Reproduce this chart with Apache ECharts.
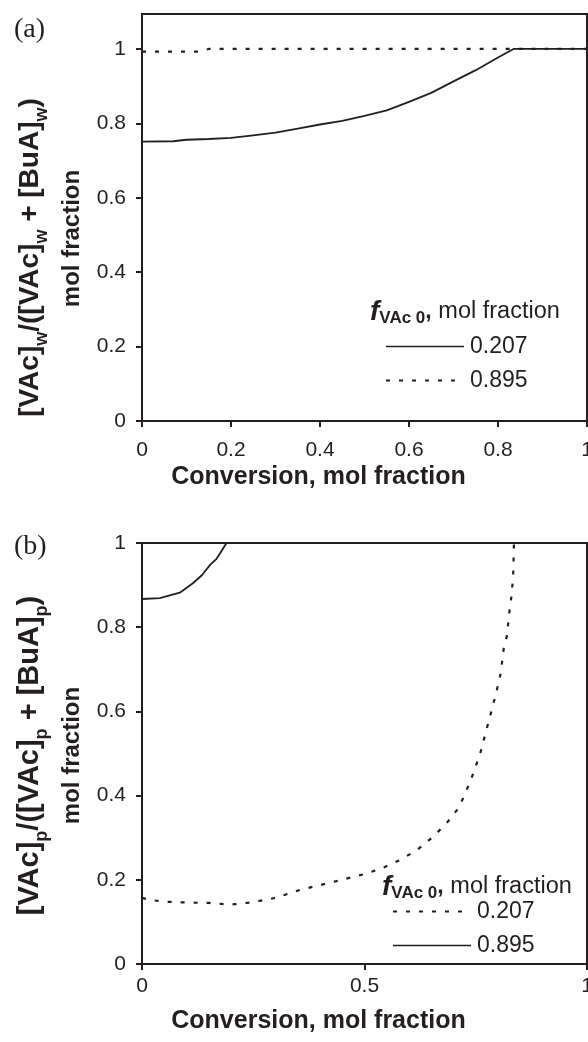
<!DOCTYPE html>
<html>
<head>
<meta charset="utf-8">
<script src="https://cdn.jsdelivr.net/npm/echarts@6/dist/echarts.min.js"></script>
<style>
  html, body { margin: 0; padding: 0; background: #fff; }
  #chart { width: 588px; height: 1042px; }
</style>
</head>
<body>
<div id="chart"></div>
<script>
// Panel (a): monomer ratio in the water phase vs. conversion
const convA207 = [0, 0.07, 0.1, 0.15, 0.2, 0.25, 0.3, 0.35, 0.4, 0.45, 0.5, 0.55, 0.6, 0.65, 0.7, 0.75, 0.8, 0.835, 0.9, 1.0];
const ratioA207 = [0.751, 0.752, 0.756, 0.758, 0.761, 0.768, 0.775, 0.786, 0.797, 0.807, 0.82, 0.835, 0.858, 0.882, 0.913, 0.943, 0.977, 1.0, 1.0, 1.0];
const convA895 = [0, 0.13, 0.15, 1.0];
const ratioA895 = [0.993, 0.993, 1.0, 1.0];

// Panel (b): monomer ratio in the polymer particles vs. conversion
const convB207 = [0, 0.02, 0.05, 0.1, 0.15, 0.2, 0.25, 0.3, 0.355, 0.43, 0.505, 0.54, 0.58, 0.618, 0.654, 0.685, 0.708, 0.72, 0.74, 0.76, 0.78, 0.795, 0.806, 0.813, 0.82, 0.826, 0.83, 0.834, 0.836, 1.0];
const ratioB207 = [0.157, 0.152, 0.148, 0.146, 0.145, 0.141, 0.147, 0.157, 0.176, 0.195, 0.215, 0.228, 0.247, 0.271, 0.302, 0.335, 0.366, 0.39, 0.44, 0.5, 0.58, 0.64, 0.69, 0.75, 0.78, 0.84, 0.872, 0.92, 1.0, 1.0];
const convB895 = [0, 0.04, 0.085, 0.115, 0.135, 0.153, 0.168, 0.19, 1.0];
const ratioB895 = [0.867, 0.869, 0.882, 0.905, 0.924, 0.948, 0.963, 1.0, 1.0];

// Tick values
const ticksA_x = [0, 0.2, 0.4, 0.6, 0.8, 1];
const ticksA_y = [0, 0.2, 0.4, 0.6, 0.8, 1];
const ticksB_x = [0, 0.5, 1];
const ticksB_y = [0, 0.2, 0.4, 0.6, 0.8, 1];

const feedLabels = ['0.207', '0.895'];

const INK = '#231f20';
const SANS = '"Liberation Sans", Arial, sans-serif';
const SERIF = '"Liberation Serif", "Times New Roman", serif';
const DOTTED = [4, 9];

function pairs(xs, ys) { return xs.map((x, i) => [x, ys[i]]); }

const titleRich = {
  b: { fontFamily: SANS, fontWeight: 'bold', fontSize: 28, color: INK, align: 'center', lineHeight: 42, verticalAlign: 'middle' },
  B: { fontFamily: SANS, fontWeight: 'bold', fontSize: 29, color: INK, align: 'center', lineHeight: 42, verticalAlign: 'middle' },
  m: { fontFamily: SANS, fontWeight: 'bold', fontSize: 24, color: INK, align: 'center', lineHeight: 42, verticalAlign: 'middle' },
  s: { fontFamily: SANS, fontWeight: 'bold', fontSize: 18, color: INK, align: 'center', lineHeight: 18, verticalAlign: 'bottom' },
  gap: { fontSize: 10, width: 38, lineHeight: 42, align: 'center' }
};

function xAxisCfg(gridIndex, interval, ticks, labelMargin, nameGap) {
  return {
    type: 'value', gridIndex, min: 0, max: 1, interval,
    name: 'Conversion, mol fraction', nameLocation: 'middle', nameGap,
    nameTextStyle: { fontFamily: SANS, fontWeight: 'bold', fontSize: 25, color: INK, padding: [0, 92, 0, 0] },
    axisLine: { show: true, onZero: false, lineStyle: { color: INK, width: 2 } },
    axisTick: { show: true, length: 6, lineStyle: { color: INK, width: 2 } },
    axisLabel: { fontFamily: SANS, fontSize: 21, color: INK, margin: labelMargin, customValues: ticks },
    splitLine: { show: false }
  };
}

function yAxisCfg(gridIndex, max, ticks, name, shift) {
  return {
    type: 'value', gridIndex, min: 0, max, interval: 0.2,
    name, nameLocation: 'middle', nameGap: 49, nameRotate: 90,
    nameTextStyle: { rich: titleRich, align: 'center', padding: [0, shift, 0, 0] },
    axisLine: { show: true, onZero: false, lineStyle: { color: INK, width: 2 } },
    axisTick: { show: true, length: 6, customValues: ticks, lineStyle: { color: INK, width: 2 } },
    axisLabel: { fontFamily: SANS, fontSize: 21, color: INK, margin: 16, customValues: ticks },
    splitLine: { show: false }
  };
}

function lineSeries(name, axisIdx, data, dashed) {
  return {
    type: 'line', name, xAxisIndex: axisIdx, yAxisIndex: axisIdx,
    data, symbol: 'none', clip: false, silent: true, animation: false,
    lineStyle: { color: INK, width: dashed ? 2.2 : 1.8, type: dashed ? DOTTED : 'solid' }
  };
}

function legendCfg(left, top, styles) {
  return {
    left, top, padding: 0, orient: 'vertical', itemWidth: 78, itemHeight: 14, itemGap: 11,
    selectedMode: false,
    textStyle: { fontFamily: SANS, fontSize: 23, color: INK, padding: [0, 0, 0, 1] },
    data: feedLabels.map((n, i) => ({
      name: n,
      itemStyle: { opacity: 0 },
      lineStyle: { color: INK, width: styles[i] ? 2 : 1.6, type: styles[i] ? DOTTED : 'solid' }
    }))
  };
}

function legendHeader(x, y) {
  return {
    type: 'text', x, y,
    style: {
      text: '{f|f}{s|VAc 0}{c|,}  {n|mol fraction}',
      rich: {
        f: { fontFamily: SANS, fontWeight: 'bold', fontStyle: 'italic', fontSize: 28, fill: INK, lineHeight: 30, verticalAlign: 'middle' },
        s: { fontFamily: SANS, fontWeight: 'bold', fontSize: 17, fill: INK, lineHeight: 18, verticalAlign: 'bottom' },
        c: { fontFamily: SANS, fontWeight: 'bold', fontSize: 23, fill: INK, lineHeight: 30, verticalAlign: 'middle' },
        n: { fontFamily: SANS, fontSize: 23.5, fill: INK, lineHeight: 30, verticalAlign: 'middle' }
      },
      verticalAlign: 'middle'
    }
  };
}

const chart = echarts.init(document.getElementById('chart'), null, { renderer: 'canvas' });

chart.setOption({
  animation: false,
  backgroundColor: '#fff',
  grid: [
    { left: 142, top: 14, width: 445, height: 407, show: true, borderColor: INK, borderWidth: 2, containLabel: false, outerBoundsMode: 'none' },
    { left: 142, top: 543, width: 445, height: 421, show: true, borderColor: INK, borderWidth: 2, containLabel: false, outerBoundsMode: 'none' }
  ],
  xAxis: [
    xAxisCfg(0, 0.2, ticksA_x, 19, 44),
    xAxisCfg(1, 0.5, ticksB_x, 12, 45)
  ],
  yAxis: [
    yAxisCfg(0, 1.094, ticksA_y, '{b|[VAc]}{s|w}{b|/([VAc]}{s|w}{b| + [BuA]}{s|w}{b|)}{gap| }\n{m|mol fraction}', 42),
    yAxisCfg(1, 1, ticksB_y, '{B|[VAc]}{s|p}{B|/([VAc]}{s|p}{B| + [BuA]}{s|p}{B|)}\n{m|mol fraction}', 4)
  ],
  legend: [
    legendCfg(385, 335, [false, true]),
    legendCfg(392, 900, [true, false])
  ],
  series: [
    lineSeries(feedLabels[1], 0, pairs(convA895, ratioA895), true),
    lineSeries(feedLabels[0], 0, pairs(convA207, ratioA207), false),
    lineSeries(feedLabels[0], 1, pairs(convB207, ratioB207), true),
    lineSeries(feedLabels[1], 1, pairs(convB895, ratioB895), false)
  ],
  graphic: [
    { type: 'text', x: 14, y: 16, style: { text: '(a)', font: '28px ' + SERIF, fill: INK } },
    { type: 'text', x: 14, y: 533, style: { text: '(b)', font: '28px ' + SERIF, fill: INK } },
    legendHeader(370, 312),
    legendHeader(382, 887)
  ]
});
</script>
</body>
</html>
